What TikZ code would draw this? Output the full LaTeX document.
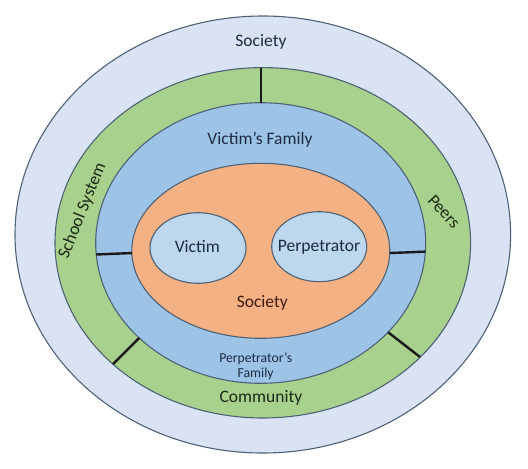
\documentclass[tikz,border=0pt]{standalone}
\usepackage{fontspec}
\setmainfont{Carlito}
\usetikzlibrary{shapes.geometric}
\definecolor{outerfill}{HTML}{DAE3F3}
\definecolor{greenfill}{HTML}{A9D18E}
\definecolor{bluefill}{HTML}{9DC3E6}
\definecolor{orangefill}{HTML}{F4B183}
\definecolor{innerfill}{HTML}{BDD7EE}
\definecolor{rimcol}{HTML}{4E6276}
\definecolor{navytext}{HTML}{1C2A44}
\definecolor{greentext}{HTML}{1B2A14}
\definecolor{browntext}{HTML}{3D1C10}
\tikzset{
  ring/.style={ellipse, draw=rimcol, line width=1.1pt, inner sep=0pt, outer sep=0pt},
  lbl/.style={inner sep=0pt, font=\fontsize{17.5}{19}\selectfont},
  divider/.style={line width=2.4pt, draw=black!90}
}
\begin{document}
\begin{tikzpicture}[x=1pt,y=-1pt]
\useasboundingbox[fill=white] (0,0) rectangle (528,469);
% rings
\node[ring, fill=outerfill, minimum width=495.6pt, minimum height=437pt] (society) at (262.8,234.5) {};
\node[ring, fill=greenfill, minimum width=415.6pt, minimum height=350.4pt] (green) at (262.8,242.8) {};
\node[ring, fill=bluefill, minimum width=330pt, minimum height=280.6pt] (blue) at (260.7,243) {};
\node[ring, fill=orangefill, minimum width=258pt, minimum height=175pt] (orange) at (260.8,250.8) {};
\node[ring, fill=innerfill, minimum width=96pt, minimum height=70.6pt] (victim) at (198,248) {};
\node[ring, fill=innerfill, minimum width=95pt, minimum height=70pt] (perp) at (319.2,246.7) {};
% dividers
\draw[divider] (blue.90) -- (blue.90 |- green.90);
\draw[divider] (blue.184.8) -- (orange.181.4);
\draw[divider] (orange.359.2) -- (blue.357.6);
\draw[divider] (green.219.8) -- (blue.218.4);
\draw[divider] (blue.325.4) -- (green.324.2);
% labels
\node[lbl, text=navytext] (tsociety) at (261,41.7) {Society};
\node[lbl, text=navytext] (tvfam) at (260,140) {Victim’s Family};
\node[lbl, text=greentext, rotate=68] (tschool) at (82.5,210.7) {School System};
\node[lbl, text=greentext, rotate=-48] (tpeers) at (444,211.7) {Peers};
\node[lbl, text=navytext] (tvictim) at (197.3,246.7) {Victim};
\node[lbl, text=navytext] (tperp) at (319,247.7) {Perpetrator};
\node[lbl, text=browntext] (tsoc2) at (262.3,303.3) {Society};
\node[inner sep=0pt, text=navytext, align=center, font=\fontsize{13.7}{15}\selectfont] (tpfam) at (255.7,365.8) {Perpetrator’s\\Family};
\node[lbl, text=greentext] (tcomm) at (261,398.3) {Community};
\end{tikzpicture}
\end{document}
